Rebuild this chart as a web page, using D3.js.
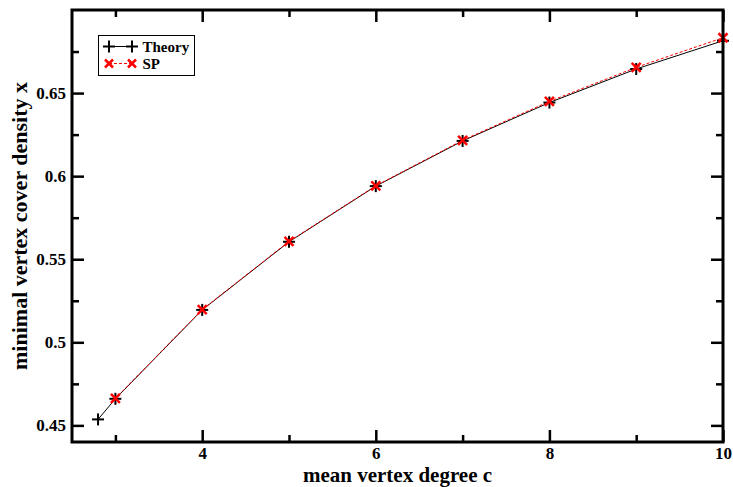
<!DOCTYPE html>
<html>
<head>
<meta charset="utf-8">
<script src="https://cdn.jsdelivr.net/npm/d3@7"></script>
<style>
  html, body { margin: 0; padding: 0; background: #fff; }
  svg { display: block; }
  text { font-family: "Liberation Serif", "Times New Roman", serif; font-weight: bold; }
</style>
</head>
<body>
<svg id="chart" width="733" height="487"></svg>
<script>
// ---- data ----
const theoryX = [2.8, 3, 4, 5, 6, 7, 8, 9, 10];
const theoryY = [0.4536, 0.4660, 0.5195, 0.5605, 0.5940, 0.6212, 0.6443, 0.6645, 0.6815];
const spX = [3, 4, 5, 6, 7, 8, 9, 10];
const spY = [0.4662, 0.5197, 0.5607, 0.5942, 0.6216, 0.6450, 0.6655, 0.6833];
const xMajorTicks = [4, 6, 8, 10];
const xMajorLabels = ["4", "6", "8", "10"];
const xMinorTicks = [3, 5, 7, 9];
const yMajorTicks = [0.45, 0.5, 0.55, 0.6, 0.65];
const yMajorLabels = ["0.45", "0.5", "0.55", "0.6", "0.65"];
const yMinorTicks = [0.475, 0.525, 0.575, 0.625, 0.675];
const seriesNames = ["Theory", "SP"];
const xTitle = "mean vertex degree c";
const yTitle = "minimal vertex cover density x";

// ---- layout ----
const L = 72, R = 723, T = 10, B = 442;
const svg = d3.select("#chart");
const x = d3.scaleLinear().domain([2.5, 10]).range([L, R]);
const y = d3.scaleLinear().domain([0.44, 0.70]).range([B, T]);

// ---- series lines ----
const line = d3.line().x(d => x(d[0])).y(d => y(d[1]));
const theory = theoryX.map((v, i) => [v, theoryY[i]]);
const sp = spX.map((v, i) => [v, spY[i]]);

svg.append("path").datum(theory).attr("d", line)
  .attr("fill", "none").attr("stroke", "#000").attr("stroke-width", 1);
svg.append("path").datum(sp).attr("d", line)
  .attr("fill", "none").attr("stroke", "#ff0000").attr("stroke-width", 1)
  .attr("stroke-dasharray", "3,2");

function plus(g, cx, cy, s, color, w) {
  g.append("line").attr("x1", cx - s).attr("x2", cx + s).attr("y1", cy).attr("y2", cy)
    .attr("stroke", color).attr("stroke-width", w);
  g.append("line").attr("x1", cx).attr("x2", cx).attr("y1", cy - s).attr("y2", cy + s)
    .attr("stroke", color).attr("stroke-width", w);
}
function cross(g, cx, cy, s, color, w) {
  g.append("line").attr("x1", cx - s).attr("x2", cx + s).attr("y1", cy - s).attr("y2", cy + s)
    .attr("stroke", color).attr("stroke-width", w);
  g.append("line").attr("x1", cx - s).attr("x2", cx + s).attr("y1", cy + s).attr("y2", cy - s)
    .attr("stroke", color).attr("stroke-width", w);
}
const mk = svg.append("g");
theory.forEach(d => plus(mk, x(d[0]), y(d[1]), 6, "#000", 2));
sp.forEach(d => cross(mk, x(d[0]), y(d[1]), 4.5, "#ff0000", 2.5));

// ---- axes (inward ticks, all four sides) ----
function styleAxis(g) {
  g.select(".domain").remove();
  g.selectAll(".tick line").attr("stroke", "#000").attr("stroke-width", 2.5);
  g.selectAll(".tick text").attr("fill", "#000").style("font-size", "17px")
    .style("font-family", "'Liberation Serif', 'Times New Roman', serif").style("font-weight", "bold");
}
svg.append("g").attr("transform", `translate(0,${B})`)
  .call(d3.axisBottom(x).tickValues(xMajorTicks).tickFormat((d, i) => xMajorLabels[i])
    .tickSizeInner(-12).tickSizeOuter(0).tickPadding(5)).call(styleAxis);
svg.append("g").attr("transform", `translate(0,${B})`)
  .call(d3.axisBottom(x).tickValues(xMinorTicks).tickFormat("")
    .tickSizeInner(-7).tickSizeOuter(0)).call(styleAxis);
svg.append("g").attr("transform", `translate(0,${T})`)
  .call(d3.axisTop(x).tickValues(xMajorTicks).tickFormat("")
    .tickSizeInner(-12).tickSizeOuter(0)).call(styleAxis);
svg.append("g").attr("transform", `translate(0,${T})`)
  .call(d3.axisTop(x).tickValues(xMinorTicks).tickFormat("")
    .tickSizeInner(-7).tickSizeOuter(0)).call(styleAxis);
svg.append("g").attr("transform", `translate(${L},0)`)
  .call(d3.axisLeft(y).tickValues(yMajorTicks).tickFormat((d, i) => yMajorLabels[i])
    .tickSizeInner(-12).tickSizeOuter(0).tickPadding(6)).call(styleAxis);
svg.append("g").attr("transform", `translate(${L},0)`)
  .call(d3.axisLeft(y).tickValues(yMinorTicks).tickFormat("")
    .tickSizeInner(-7).tickSizeOuter(0)).call(styleAxis);
svg.append("g").attr("transform", `translate(${R},0)`)
  .call(d3.axisRight(y).tickValues(yMajorTicks).tickFormat("")
    .tickSizeInner(-12).tickSizeOuter(0)).call(styleAxis);
svg.append("g").attr("transform", `translate(${R},0)`)
  .call(d3.axisRight(y).tickValues(yMinorTicks).tickFormat("")
    .tickSizeInner(-7).tickSizeOuter(0)).call(styleAxis);

// frame
svg.append("rect").attr("x", L).attr("y", T).attr("width", R - L).attr("height", B - T)
  .attr("fill", "none").attr("stroke", "#000").attr("stroke-width", 3);

// ---- titles ----
svg.append("text").attr("x", (L + R) / 2).attr("y", 482).attr("text-anchor", "middle")
  .style("font-size", "21px").text(xTitle);
svg.append("text").attr("transform", `translate(27,${(T + B) / 2}) rotate(-90)`)
  .attr("text-anchor", "middle").style("font-size", "22px").text(yTitle);

// ---- legend ----
const lg = svg.append("g");
lg.append("rect").attr("x", 98.5).attr("y", 35.5).attr("width", 96).attr("height", 40)
  .attr("fill", "#fff").attr("stroke", "#000").attr("stroke-width", 1);
const rows = [46.5, 63.5];
lg.append("line").attr("x1", 109).attr("x2", 132).attr("y1", rows[0]).attr("y2", rows[0])
  .attr("stroke", "#000").attr("stroke-width", 1);
plus(lg, 109, rows[0], 6, "#000", 2);
plus(lg, 132, rows[0], 6, "#000", 2);
lg.append("line").attr("x1", 109).attr("x2", 132).attr("y1", rows[1]).attr("y2", rows[1])
  .attr("stroke", "#ff0000").attr("stroke-width", 1).attr("stroke-dasharray", "3,2");
cross(lg, 109, rows[1], 4, "#ff0000", 2.5);
cross(lg, 132, rows[1], 4, "#ff0000", 2.5);
seriesNames.forEach((n, i) => {
  lg.append("text").attr("x", 142.5).attr("y", rows[i]).attr("dy", "0.35em")
    .style("font-size", "15px").text(n);
});
</script>
</body>
</html>
